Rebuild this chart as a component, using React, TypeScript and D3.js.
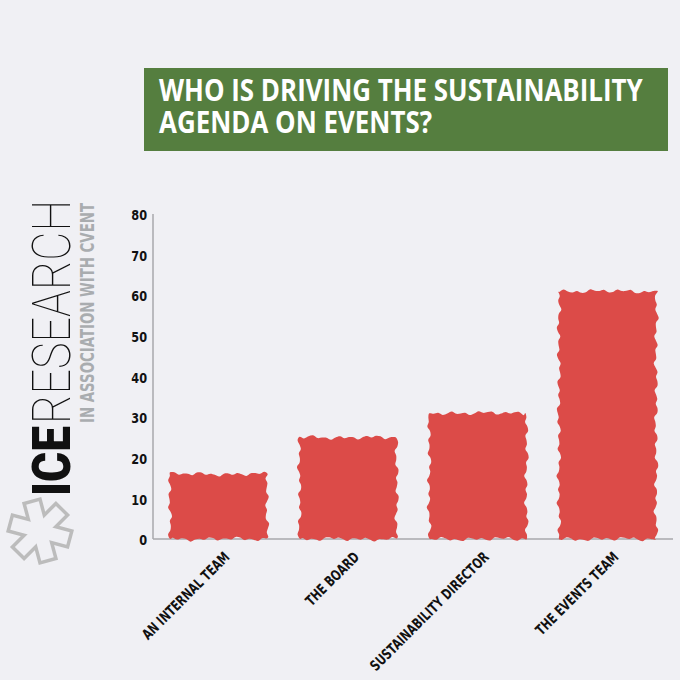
import React from 'react';
import * as d3 from 'd3';

const categories = ['AN INTERNAL TEAM', 'THE BOARD', 'SUSTAINABILITY DIRECTOR', 'THE EVENTS TEAM'];
const values = [16, 25, 31, 61];
const yTicks = [0, 10, 20, 30, 40, 50, 60, 70, 80];
const titleLines = ['WHO IS DRIVING THE SUSTAINABILITY', 'AGENDA ON EVENTS?'];
const logoBold = 'ICE';
const logoLight = 'RESEARCH';
const logoSub = 'IN ASSOCIATION WITH CVENT';

const W = 680;
const H = 680;
const BG = '#f0f0f4';
const RED = '#dc4b48';
const GREEN = '#557e3f';
const BOLDFONT = "'DejaVu Sans', 'Liberation Sans', sans-serif";

const x = d3.scaleBand<string>().domain(categories).range([153, 673]).paddingInner(0.25).paddingOuter(0.13);
const y = d3.scaleLinear().domain([0, 80]).range([539, 214]);

function wavyPath(x0: number, y0: number, w: number, h: number, seed: number): string {
  const pts: [number, number][] = [];
  const step = 4.5;
  let s = 0;
  const off = (t: number) =>
    1.3 * Math.sin(t * 0.47 + seed) + 0.9 * Math.sin(t * 0.21 + seed * 2.3) + 0.5 * Math.sin(t * 0.083 + seed * 0.7);
  for (let t = 0; t < w; t += step, s += step) pts.push([x0 + t, y0 - off(s)]);
  for (let t = 0; t < h; t += step, s += step) pts.push([x0 + w + off(s), y0 + t]);
  for (let t = 0; t < w; t += step, s += step) pts.push([x0 + w - t, y0 + h + off(s)]);
  for (let t = 0; t < h; t += step, s += step) pts.push([x0 - off(s), y0 + h - t]);
  const line = d3.line().curve(d3.curveCatmullRomClosed.alpha(0.5));
  return line(pts) || '';
}

function Asterisk() {
  const cx = 40;
  const cy = 531;
  const angles = [15, 75, 135];
  const L = 58;
  const T = 13;
  return (
    <g>
      {angles.map((a) => (
        <rect key={'o' + a} x={cx - L / 2} y={cy - T / 2} width={L} height={T}
          transform={`rotate(${a} ${cx} ${cy})`} fill="#bcbcbc" stroke="#bcbcbc" strokeWidth={7} />
      ))}
      {angles.map((a) => (
        <rect key={'i' + a} x={cx - L / 2} y={cy - T / 2} width={L} height={T}
          transform={`rotate(${a} ${cx} ${cy})`} fill={BG} />
      ))}
    </g>
  );
}

export default function App() {
  const bw = x.bandwidth();
  return (
    <svg width={W} height={H} style={{ position: 'absolute', left: 0, top: 0 }}>
      <rect x={0} y={0} width={W} height={H} fill={BG} />

      {/* Title box */}
      <rect x={144} y={68} width={524} height={83} fill={GREEN} />
      <g transform="translate(159,101) scale(0.85,1)">
        <text x={0} y={0} fill="#fff" fontFamily="'Open Sans', sans-serif" fontWeight={700}
          fontSize={30.5}>{titleLines[0]}</text>
      </g>
      <g transform="translate(159,133) scale(0.85,1)">
        <text x={0} y={0} fill="#fff" fontFamily="'Open Sans', sans-serif" fontWeight={700}
          fontSize={30.5}>{titleLines[1]}</text>
      </g>

      {/* Logo */}
      <g transform="translate(70,496) rotate(-90)">
        <text x={0} y={0} fill="#111" fontFamily="Roboto, 'Liberation Sans', sans-serif" fontWeight={900}
          fontSize={53} textLength={70} lengthAdjust="spacingAndGlyphs">{logoBold}</text>
        <text x={72} y={0} fill="#111" fontFamily="Roboto, 'Liberation Sans', sans-serif" fontWeight={100}
          fontSize={53} textLength={224} lengthAdjust="spacingAndGlyphs">{logoLight}</text>
      </g>
      <g transform="translate(94,423) rotate(-90)">
        <text x={0} y={0} fill="#a9acaf" fontFamily={BOLDFONT} fontWeight={700}
          fontSize={19} textLength={220} lengthAdjust="spacingAndGlyphs">{logoSub}</text>
      </g>
      <Asterisk />

      {/* Axes */}
      <line x1={153} x2={153} y1={y(80)} y2={y(0)} stroke="#a8a8ac" strokeWidth={1.5} />
      <line x1={153} x2={673} y1={y(0)} y2={y(0)} stroke="#a8a8ac" strokeWidth={1.5} />
      {yTicks.map((t) => (
        <g key={t} transform={`translate(147,${y(t) + 1}) scale(0.78,1)`}>
          <text x={0} y={0} dy="0.36em" textAnchor="end" fontFamily={BOLDFONT}
            fontWeight={700} fontSize={14.5} fill="#111">{t}</text>
        </g>
      ))}

      {/* Bars */}
      {categories.map((c, i) => {
        const x0 = x(c) as number;
        const top = y(values[i]);
        return <path key={c} d={wavyPath(x0, top, bw, y(0) - top, i * 1.7 + 0.5)} fill={RED} />;
      })}

      {/* X labels */}
      {categories.map((c) => {
        const cx = (x(c) as number) + bw / 2 + 12;
        const cy = 558;
        return (
          <g key={c} transform={`translate(${cx},${cy}) rotate(-45) scale(0.73,1)`}>
            <text x={0} y={0} textAnchor="end" fontFamily={BOLDFONT} fontWeight={700}
              fontSize={14.5} fill="#111">{c}</text>
          </g>
        );
      })}
    </svg>
  );
}
